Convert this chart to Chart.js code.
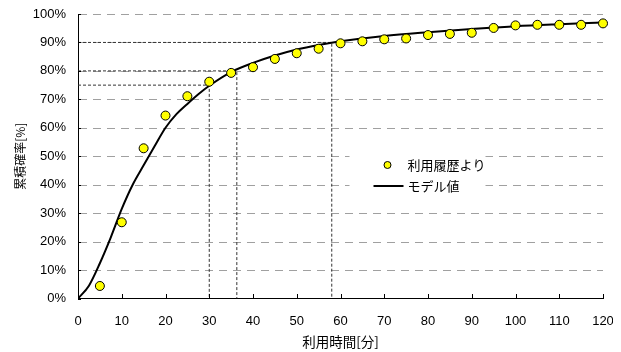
<!DOCTYPE html>
<html><head><meta charset="utf-8">
<script src="https://cdn.jsdelivr.net/npm/chart.js@4"></script>
<style>html,body{margin:0;padding:0;background:#fff}#wrap{width:621px;height:352px;position:relative}</style>
</head><body><div id="wrap"><canvas id="c" width="621" height="352"></canvas></div>
<script>
const seriesNames = ['利用履歴より', 'モデル値'];
const xTitle = '利用時間[分]';
const yTitle = '累積確率[%]';
const xTicks = [0,10,20,30,40,50,60,70,80,90,100,110,120];
const yTicks = [0,10,20,30,40,50,60,70,80,90,100];
const obsX = [5,10,15,20,25,30,35,40,45,50,55,60,65,70,75,80,85,90,95,100,105,110,115,120];
const obsY = [4.4,26.8,52.8,64.3,71.1,76.2,79.3,81.3,84.2,86.2,87.8,89.7,90.4,91.1,91.4,92.6,93.0,93.4,95.1,96.0,96.2,96.2,96.2,96.7];
const modelX = [0,2.5,5,7.5,10,12.5,15,17.5,20,22.5,25,27.5,30,35,40,45,50,55,60,70,80,90,100,110,120];
const modelY = [0,4.5,12.4,21.5,31.5,40,46.8,53.5,60,64.8,68.4,71.8,74.8,79.6,82.8,85.4,87.5,89.1,90.4,92.3,93.6,94.7,95.7,96.4,97.0];
const refX = [30, 36.3, 58];
const refY = [75, 80, 90];

const CJK = "'Noto Sans CJK JP', sans-serif";
const NUM = "'Liberation Sans', 'Noto Sans CJK JP', sans-serif";

const pts = (xs, ys) => xs.map((x, i) => ({x, y: ys[i]}));
const refSets = refX.map((rx, i) => ({
  type: 'line',
  data: [{x: 0, y: refY[i]}, {x: rx, y: refY[i]}, {x: rx, y: 0}],
  borderColor: '#333', borderWidth: 1, borderDash: [3, 2],
  pointRadius: 0, tension: 0, fill: false, order: 3
}));

const gridPlugin = {
  id: 'dashGrid',
  beforeDatasetsDraw(chart) {
    const {ctx, scales: {x, y}} = chart;
    ctx.save();
    ctx.strokeStyle = '#a0a0a0'; ctx.lineWidth = 1;
    ctx.setLineDash([8, 6]);
    yTicks.forEach(v => {
      if (v === 0) return;
      const py = Math.round(y.getPixelForValue(v)) + 0.5;
      ctx.beginPath(); ctx.moveTo(x.left + 1, py); ctx.lineTo(x.right, py); ctx.stroke();
    });
    ctx.restore();
  }
};

const decor = {
  id: 'decor',
  afterDraw(chart) {
    const {ctx, scales: {x, y}} = chart;
    ctx.save();
    ctx.strokeStyle = '#000'; ctx.lineWidth = 1;
    ctx.beginPath();
    xTicks.forEach(v => { const px = Math.round(x.getPixelForValue(v)) + 0.5; ctx.moveTo(px, y.bottom); ctx.lineTo(px, y.bottom - 4.5); });
    yTicks.forEach(v => { const py = Math.round(y.getPixelForValue(v)) + 0.5; ctx.moveTo(x.left, py); ctx.lineTo(x.left + 3, py); });
    ctx.stroke();
    // legend
    const lx = x.getPixelForValue(64.8), ly = y.getPixelForValue(52.2);
    ctx.fillStyle = '#fff';
    ctx.fillRect(lx - 12, ly - 5, 136, 52);
    ctx.beginPath();
    ctx.arc(lx + 26, ly + 15, 3.5, 0, Math.PI * 2);
    ctx.fillStyle = '#ffff00'; ctx.fill();
    ctx.strokeStyle = '#000'; ctx.lineWidth = 1; ctx.stroke();
    ctx.beginPath();
    ctx.lineWidth = 2;
    ctx.moveTo(lx + 12, ly + 36); ctx.lineTo(lx + 42, ly + 36); ctx.stroke();
    ctx.fillStyle = '#000';
    ctx.font = '13px ' + CJK;
    ctx.textBaseline = 'middle'; ctx.textAlign = 'left';
    ctx.fillText(seriesNames[0], lx + 46, ly + 15.5);
    ctx.fillText(seriesNames[1], lx + 46, ly + 36);
    ctx.restore();
  }
};
const clipRight = {
  id: 'clipRight',
  afterDraw(chart) {
    const c = chart.ctx; c.save(); c.fillStyle = '#fff'; c.fillRect(613, 0, 10, chart.height); c.restore();
  }
};

new Chart(document.getElementById('c'), {
  type: 'scatter',
  data: {
    datasets: [
      { label: seriesNames[0], data: pts(obsX, obsY), backgroundColor: '#ffff00', borderColor: '#000', borderWidth: 1, pointRadius: 4.5, pointHoverRadius: 4.5, order: 1, clip: false },
      { label: seriesNames[1], type: 'line', data: pts(modelX, modelY), borderColor: '#000', borderWidth: 2, pointRadius: 0, cubicInterpolationMode: 'monotone', fill: false, order: 2 },
      ...refSets
    ]
  },
  options: {
    responsive: false, animation: false, devicePixelRatio: 1,
    layout: { padding: { left: 13, right: 18, top: 14, bottom: 2 } },
    plugins: { legend: { display: false }, tooltip: { enabled: false } },
    scales: {
      x: {
        type: 'linear', min: 0, max: 120,
        afterBuildTicks: s => { s.ticks = xTicks.map(v => ({value: v})); },
        afterFit: s => { s.height = 51.5; s.paddingLeft = 0; s.paddingRight = 0; },
        grid: { display: false, drawTicks: false },
        border: { display: true, color: '#000', width: 1 },
        ticks: { padding: 15, color: '#000', font: { family: NUM, size: 13 }, maxRotation: 0, autoSkip: false },
        title: { display: true, text: xTitle, color: '#000', font: { family: CJK, size: 13.5 }, padding: { top: 0, bottom: 0 } }
      },
      y: {
        type: 'linear', min: 0, max: 100,
        afterBuildTicks: s => { s.ticks = yTicks.map(v => ({value: v})); },
        afterFit: s => { s.width = 65; s.paddingTop = 0; s.paddingBottom = 0; },
        grid: { display: false, drawTicks: false },
        border: { display: true, color: '#000', width: 1 },
        ticks: { padding: 12, color: '#000', font: { family: NUM, size: 13 }, callback: v => v + '%' },
        title: { display: true, text: yTitle, color: '#000', font: { family: CJK, size: 12 }, padding: 0 }
      }
    }
  },
  plugins: [gridPlugin, decor, clipRight]
});
</script></body></html>
